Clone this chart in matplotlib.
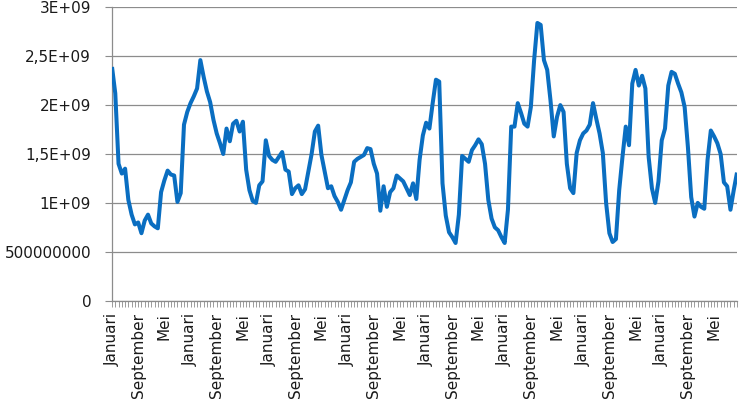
import matplotlib
matplotlib.use("Agg")
import matplotlib.pyplot as plt
from matplotlib.ticker import FixedLocator, MultipleLocator, FixedFormatter

# ---- data ----
months = ["Januari", "Februari", "Maart", "April", "Mei", "Juni", "Juli",
          "Augustus", "September", "Oktober", "November", "December"]
n_years = 16
categories = months * n_years

values_e9 = [
    2.39, 2.12, 1.40, 1.30, 1.35, 1.03, 0.88, 0.78, 0.80, 0.69, 0.82, 0.88,
    0.79, 0.76, 0.74, 1.11, 1.23, 1.33, 1.29, 1.28, 1.01, 1.10, 1.80, 1.93,
    2.02, 2.09, 2.17, 2.46, 2.29, 2.14, 2.03, 1.85, 1.71, 1.61, 1.50, 1.76,
    1.63, 1.81, 1.84, 1.73, 1.83, 1.34, 1.13, 1.02, 1.00, 1.18, 1.22, 1.64,
    1.48, 1.44, 1.42, 1.47, 1.52, 1.34, 1.32, 1.09, 1.15, 1.18, 1.09, 1.14,
    1.32, 1.50, 1.73, 1.79, 1.49, 1.32, 1.15, 1.17, 1.07, 1.01, 0.93, 1.03,
    1.13, 1.21, 1.42, 1.45, 1.47, 1.49, 1.56, 1.55, 1.40, 1.30, 0.92, 1.17,
    0.96, 1.11, 1.15, 1.28, 1.25, 1.22, 1.15, 1.08, 1.20, 1.04, 1.44, 1.69,
    1.82, 1.76, 2.02, 2.26, 2.24, 1.20, 0.87, 0.70, 0.65, 0.59, 0.88, 1.48,
    1.45, 1.42, 1.54, 1.59, 1.65, 1.60, 1.40, 1.03, 0.84, 0.75, 0.72, 0.65,
    0.59, 0.93, 1.78, 1.78, 2.02, 1.92, 1.81, 1.78, 1.98, 2.46, 2.84, 2.82,
    2.46, 2.36, 2.05, 1.68, 1.88, 2.00, 1.93, 1.40, 1.15, 1.10, 1.51, 1.64,
    1.71, 1.74, 1.80, 2.02, 1.86, 1.71, 1.51, 1.00, 0.69, 0.60, 0.63, 1.13,
    1.47, 1.78, 1.59, 2.22, 2.36, 2.20, 2.30, 2.17, 1.47, 1.15, 1.00, 1.22,
    1.64, 1.76, 2.20, 2.34, 2.32, 2.22, 2.13, 1.98, 1.57, 1.06, 0.86, 1.00,
    0.96, 0.94, 1.44, 1.74, 1.68, 1.61, 1.50, 1.21, 1.17, 0.93, 1.13, 1.31,
]
values = [v * 1e9 for v in values_e9]

y_ticks = [0, 0.5e9, 1.0e9, 1.5e9, 2.0e9, 2.5e9, 3.0e9]
y_tick_labels = ["0", "500000000", "1E+09", "1,5E+09", "2E+09", "2,5E+09", "3E+09"]
label_step = 8

# ---- plot ----
plt.rcParams["font.family"] = ["DejaVu Sans"]
fig = plt.figure(figsize=(7.46, 4.18), dpi=100)
ax = fig.add_axes([112 / 746, 1 - 300.7 / 418, (737 - 112) / 746, (300.7 - 7.3) / 418])

x = list(range(len(values)))
ax.plot(x, values, color="#0A6EC1", linewidth=2.9, solid_joinstyle="round",
        solid_capstyle="butt", zorder=3)

ax.set_xlim(0, len(values) - 1)
ax.set_ylim(0, 3e9)

ax.yaxis.set_major_locator(FixedLocator(y_ticks))
ax.yaxis.set_major_formatter(FixedFormatter(y_tick_labels))
ax.yaxis.grid(True, color="#8c8c8c", linewidth=0.9)
ax.set_axisbelow(True)

major_pos = list(range(0, len(values), label_step))
ax.xaxis.set_major_locator(FixedLocator(major_pos))
ax.xaxis.set_major_formatter(FixedFormatter([categories[i] for i in major_pos]))
ax.xaxis.set_minor_locator(MultipleLocator(1))

for s in ["top", "right"]:
    ax.spines[s].set_visible(False)
for s in ["left", "bottom"]:
    ax.spines[s].set_color("#8c8c8c")
    ax.spines[s].set_linewidth(0.9)

ax.tick_params(axis="y", which="major", length=5, width=0.8, color="#8c8c8c",
               pad=10, labelsize=11, labelcolor="#1a1a1a")
ax.tick_params(axis="x", which="both", length=4, width=0.6, color="#8c8c8c",
               direction="out")
ax.tick_params(axis="x", which="major", pad=5, labelsize=11,
               labelcolor="#1a1a1a", labelrotation=90)

fig.savefig("out.png", dpi=100)
